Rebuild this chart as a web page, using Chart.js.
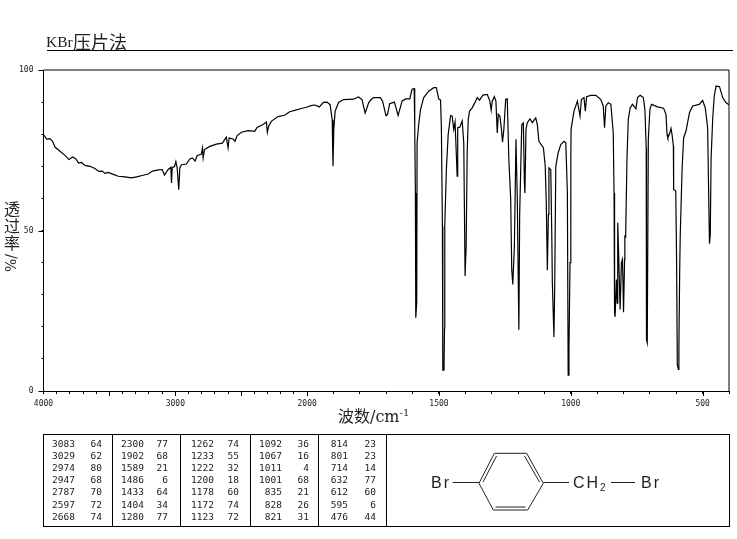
<!DOCTYPE html>
<html>
<head>
<meta charset="utf-8">
<script src="https://cdn.jsdelivr.net/npm/chart.js@4"></script>
<style>
body { margin: 0; background: #fff; }
#page { position: relative; width: 737px; height: 539px; overflow: hidden; color: #222; }
#page div, #page span { position: absolute; white-space: nowrap; }
canvas { position: absolute; left: 0; top: 0; }
.num { font: 9.5px "DejaVu Sans Mono", monospace; text-align: right; width: 40px; }
.cjk { font-family: "Noto Sans CJK SC", sans-serif; }
</style>
</head>
<body>
<div id="page">
    <canvas id="irChart" width="737" height="539"></canvas>
    <div style="left:46px;top:33px;font:15.5px 'Liberation Serif',serif">KBr</div>
    <div class="cjk" style="left:73px;top:28px;font-size:18px">压片法</div>
    <div style="left:47px;top:50px;width:686px;height:1px;background:#000"></div>

    <div class="cjk" style="left:4px;top:200px;font-size:16px;line-height:17px;white-space:normal;width:17px">透过率</div>
    <div style="left:2px;top:255px;font:14px 'DejaVu Serif',serif;transform:rotate(-90deg);transform-origin:center;width:18px;text-align:center">%/</div>
    <div class="cjk" style="left:338px;top:403px;font-size:16px">波数<span style="position:static;font:16px 'DejaVu Serif',serif">/cm<sup style="font-size:10px;line-height:0">-1</sup></span></div>

    <div id="peakTable" style="left:43px;top:434px;width:685px;height:91px;border:1px solid #000"></div>

    <svg style="position:absolute;left:0;top:0" width="737" height="539" fill="none" stroke="#222" stroke-width="1">
        <path d="M452.7 482.5H479M479 483.3L494.3 453.3H526.7L543.3 483.3L527.7 510H493.3L479 483.3"/>
        <path d="M483 482L496.5 456M524.5 456L539.5 482M495.5 507H525.5"/>
        <path d="M543.3 482.5H569M611 482.5H635"/>
        <g fill="#222" stroke="none" font-family="Liberation Sans, sans-serif" font-size="16" letter-spacing="2">
            <text x="431" y="488">Br</text>
            <text x="573" y="488">CH</text>
            <text x="600" y="491" font-size="10">2</text>
            <text x="641" y="488">Br</text>
        </g>
    </svg>
</div>

<script>
const waveNumbers = [
    4000, 3976, 3951, 3931, 3913, 3875, 3837, 3807, 3779, 3754, 3734, 3711, 3686, 3648, 3610, 3580, 3554, 3534, 3509, 3471,
    3433, 3383, 3332, 3294, 3244, 3206, 3173, 3130, 3100, 3082, 3054, 3034, 3029, 3024, 3006, 2996, 2986, 2974, 2966, 2953,
    2916, 2890, 2870, 2850, 2835, 2802, 2794, 2789, 2779, 2739, 2688, 2643, 2613, 2600, 2592, 2562, 2547, 2532, 2499, 2448,
    2398, 2380, 2335, 2309, 2302, 2292, 2272, 2221, 2171, 2133, 2095, 2044, 2006, 1982, 1970, 1954, 1938, 1925, 1913, 1905,
    1902, 1899, 1894, 1881, 1862, 1824, 1805, 1792, 1780, 1767, 1760, 1748, 1722, 1714, 1701, 1695, 1687, 1669, 1655, 1640,
    1627, 1611, 1602, 1594, 1592, 1589.5, 1588, 1584.4, 1583, 1577, 1570, 1558, 1539, 1520, 1510, 1501, 1494, 1491, 1487, 1485.5,
    1481, 1479, 1478, 1472, 1465, 1456, 1450, 1444, 1439, 1431, 1429, 1421, 1412, 1406, 1401, 1397, 1393, 1389, 1384, 1374,
    1361, 1355, 1346, 1333, 1317, 1307, 1302, 1298, 1290, 1284, 1279, 1275, 1269, 1263, 1259, 1254, 1247, 1241, 1235, 1228,
    1224, 1220, 1214, 1208, 1203, 1197, 1194, 1186, 1180, 1176, 1174, 1170, 1165, 1155, 1146, 1133, 1127, 1121, 1104, 1097,
    1093, 1089, 1085, 1083, 1076, 1072, 1070, 1064, 1061, 1057, 1048, 1038, 1026, 1019, 1013, 1010, 1007, 1003, 1000, 999,
    988, 975, 965, 960, 950, 945, 940, 924, 905, 886, 877, 872, 867, 858, 848, 839, 836, 834, 832, 827,
    824, 822, 819, 816, 813, 808, 804, 802, 800, 796, 795, 792, 787, 782, 775, 766, 753, 747, 737, 725,
    719, 714, 713, 710, 706, 700, 694, 671, 648, 639, 635, 632, 625, 620, 616, 611, 610, 602, 599, 596,
    592, 590, 587, 585, 578, 572, 563, 550, 538, 513, 500, 490, 481, 477, 474, 471, 468, 462, 456, 449,
    436, 424, 411, 400
];
const transmittance = [
    79.9, 78.5, 78.6, 77.8, 76.0, 74.7, 73.4, 72.1, 72.9, 72.3, 71.0, 71.2, 70.3, 70.0, 69.3, 68.4, 68.5, 67.8, 68.1, 67.5,
    66.9, 66.7, 66.4, 66.7, 67.2, 67.6, 68.5, 68.9, 69.0, 67.3, 69.0, 69.7, 64.8, 69.5, 70.0, 71.5, 69.5, 62.7, 69.5, 70.5,
    70.7, 72.3, 72.6, 71.6, 73.3, 73.8, 75.7, 72.6, 75.2, 76.2, 76.9, 77.2, 79.1, 75.7, 78.8, 78.5, 77.8, 79.5, 80.6, 81.1,
    80.9, 82.1, 83.0, 83.8, 80.6, 82.5, 84.0, 85.5, 85.9, 87.0, 87.4, 88.0, 88.4, 89.0, 89.1, 88.5, 89.9, 90.0, 89.2, 84.5,
    70.0, 81.4, 87.1, 89.9, 90.8, 90.9, 91.6, 90.8, 86.6, 89.7, 90.6, 91.4, 91.4, 90.3, 85.8, 86.2, 89.5, 90.0, 85.8, 90.3,
    91.0, 91.0, 94.0, 94.2, 82.5, 61.7, 22.8, 27.6, 77.3, 83.0, 87.7, 91.4, 93.4, 94.5, 94.5, 91.0, 90.6, 82.5, 51.3, 6.5,
    6.5, 19.6, 51.4, 69.0, 80.0, 85.8, 85.6, 81.5, 83.8, 66.9, 82.0, 82.2, 84.1, 77.3, 35.8, 45.0, 74.2, 84.6, 87.2, 88.2,
    90.3, 91.4, 90.6, 92.2, 92.4, 90.3, 87.5, 90.3, 91.7, 90.3, 80.4, 86.2, 85.6, 81.5, 77.5, 81.5, 90.8, 91.0, 72.1, 59.7,
    37.8, 33.2, 45.0, 78.4, 60.0, 19.1, 55.0, 83.0, 83.5, 64.9, 61.7, 81.5, 83.6, 84.8, 83.6, 85.1, 83.0, 77.8, 75.8, 70.0,
    58.6, 37.6, 55.0, 69.5, 69.0, 48.0, 33.7, 16.8, 33.0, 70.0, 74.2, 76.8, 77.8, 77.3, 61.7, 4.9, 12.9, 40.0, 71.6, 81.5,
    87.2, 90.3, 85.6, 90.8, 91.4, 87.2, 91.7, 92.1, 92.1, 90.8, 88.8, 82.0, 88.8, 89.8, 89.3, 80.4, 61.7, 24.3, 23.1, 34.7,
    27.4, 52.4, 44.0, 35.0, 25.4, 39.9, 41.0, 33.0, 24.5, 41.0, 48.2, 48.0, 72.1, 84.6, 88.2, 89.3, 87.9, 91.4, 92.1, 91.4,
    87.7, 75.8, 16.0, 15.0, 78.4, 87.7, 89.3, 88.5, 88.1, 86.2, 79.9, 78.9, 80.2, 81.8, 79.9, 76.3, 62.8, 62.3, 42.5, 8.2,
    6.7, 13.9, 37.8, 48.2, 69.0, 78.9, 81.0, 86.7, 88.8, 89.3, 90.5, 88.2, 82.0, 60.7, 45.9, 48.7, 72.1, 84.6, 91.9, 95.0,
    94.8, 91.4, 89.8, 89.2
];

const xTickValues = [
    4000, 3900, 3800, 3700, 3600, 3500, 3400, 3300, 3200, 3100, 3000, 2900, 2800, 2700, 2600, 2500, 2400, 2300, 2200, 2100,
    2000, 1900, 1800, 1700, 1600, 1500, 1400, 1300, 1200, 1100, 1000, 900, 800, 700, 600, 500, 400
];
const xTickLabels = [4000, 3000, 2000, 1500, 1000, 500];
const xLongTicks = [3500, 3000, 2500, 2000, 1500, 1000, 500];
const yTickLabels = [0, 50, 100];

const peakWaves = [
    3083, 3029, 2974, 2947, 2787, 2597, 2668,
    2300, 1902, 1589, 1486, 1433, 1404, 1280,
    1262, 1233, 1222, 1200, 1178, 1172, 1123,
    1092, 1067, 1011, 1001, 835, 828, 821,
    814, 801, 714, 632, 612, 595, 476
];
const peakValues = [
    64, 62, 80, 68, 70, 72, 74,
    77, 68, 21, 6, 64, 34, 77,
    74, 55, 32, 18, 60, 74, 72,
    36, 16, 4, 68, 21, 26, 31,
    23, 23, 14, 77, 60, 6, 44
];

// peak table
const table = document.getElementById('peakTable');
const waveRight = [31, 100, 170, 238, 304];
const valueRight = [58, 124, 195, 265, 332];
const dividers = [68, 136, 206, 274, 342];
dividers.forEach(function (x) {
    let d = document.createElement('div');
    d.style.cssText = 'left:' + x + 'px;top:0;width:1px;height:91px;background:#000';
    table.appendChild(d);
});
peakWaves.forEach(function (w, i) {
    let col = Math.floor(i / 7);
    let top = 2.5 + (i % 7) * 12.2;
    let a = document.createElement('span');
    a.className = 'num';
    a.textContent = w;
    a.style.left = (waveRight[col] - 40) + 'px';
    a.style.top = top + 'px';
    table.appendChild(a);
    let b = document.createElement('span');
    b.className = 'num';
    b.textContent = peakValues[i];
    b.style.left = (valueRight[col] - 40) + 'px';
    b.style.top = top + 'px';
    table.appendChild(b);
});

// the x axis changes rate at 2000 cm-1, below it one wavenumber is twice as wide
class IrScale extends Chart.LinearScale {
    getPixelForValue(value) {
        let fr = value >= 2000
            ? (4000 - value) * 0.5 / 2600
            : (2000 - value + 1000) / 2600;
        return this.getPixelForDecimal(fr);
    }
}
IrScale.id = 'irScale';
IrScale.defaults = Chart.LinearScale.defaults;
Chart.register(IrScale);

const framePlugin = {
    id: 'frame',
    afterDraw: function (chart) {
        let ctx = chart.ctx;
        let area = chart.chartArea;
        ctx.save();
        ctx.strokeStyle = '#000';
        ctx.lineWidth = 1;
        ctx.beginPath();
        ctx.moveTo(area.left, area.top);
        ctx.lineTo(area.right, area.top);
        ctx.lineTo(area.right, area.bottom);
        // longer ticks
        xLongTicks.forEach(function (v) {
            let px = Math.round(chart.scales.x.getPixelForValue(v)) + 0.5;
            ctx.moveTo(px, area.bottom);
            ctx.lineTo(px, area.bottom + 5);
        });
        yTickLabels.forEach(function (v) {
            let py = Math.round(chart.scales.y.getPixelForValue(v)) + 0.5;
            ctx.moveTo(area.left, py);
            ctx.lineTo(area.left - 5, py);
        });
        ctx.stroke();
        ctx.restore();
    }
};

const points = waveNumbers.map(function (w, i) {
    return { x: w, y: transmittance[i] };
});

new Chart(document.getElementById('irChart').getContext('2d'), {
    type: 'line',
    data: {
        datasets: [{
            data: points,
            borderColor: '#000',
            borderWidth: 1.2,
            pointRadius: 0,
            tension: 0,
            fill: false
        }]
    },
    options: {
        responsive: false,
        animation: false,
        layout: { padding: { left: 13.5, top: 70, right: 8, bottom: 128 } },
        plugins: { legend: { display: false }, tooltip: { enabled: false } },
        scales: {
            x: {
                type: 'irScale',
                min: 400,
                max: 4000,
                afterBuildTicks: function (scale) {
                    scale.ticks = xTickValues.map(function (v) { return { value: v }; });
                },
                afterFit: function (scale) { scale.height = 20; },
                grid: { drawOnChartArea: false, tickLength: 3, tickColor: '#000' },
                border: { color: '#000', width: 1 },
                ticks: {
                    autoSkip: false,
                    maxRotation: 0,
                    padding: 5,
                    color: '#222',
                    font: { family: 'DejaVu Sans Mono', size: 8 },
                    callback: function (v) { return xTickLabels.includes(v) ? String(v) : ''; }
                }
            },
            y: {
                min: 0,
                max: 100,
                afterFit: function (scale) { scale.width = 30; },
                grid: { drawOnChartArea: false, tickLength: 2, tickColor: '#000' },
                border: { color: '#000', width: 1 },
                ticks: {
                    stepSize: 10,
                    autoSkip: false,
                    padding: 8,
                    color: '#222',
                    font: { family: 'DejaVu Sans Mono', size: 8 },
                    callback: function (v) { return yTickLabels.includes(v) ? String(v) : ''; }
                }
            }
        }
    },
    plugins: [framePlugin]
});
</script>
</body>
</html>
